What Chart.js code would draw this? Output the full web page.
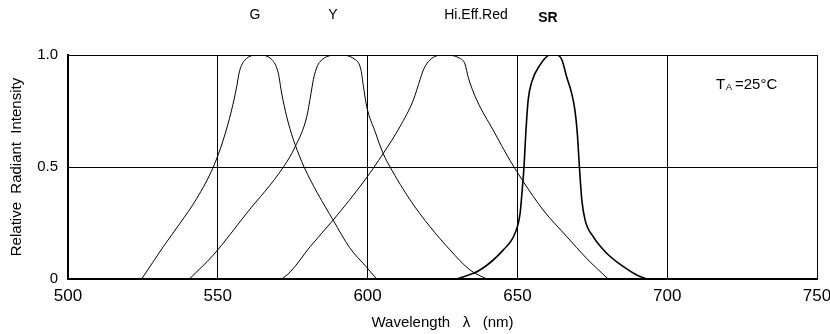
<!DOCTYPE html>
<html>
<head>
<meta charset="utf-8">
<script src="https://cdn.jsdelivr.net/npm/chart.js@4/dist/chart.umd.min.js"></script>
<style>
  html, body { margin:0; padding:0; background:#fff; }
  canvas { display:block; }
</style>
</head>
<body>
<canvas id="c" width="830" height="334"></canvas>
<script>
// spectral curves (wavelength nm -> relative intensity)
const wlG  = [524.6, 531.8, 537.4, 543.0, 548.5, 551.8, 554.6, 556.3, 557.2, 559.1, 563.5, 568.0, 570.2, 571.3, 573.0, 574.1, 575.8, 578.8, 583.4, 588.5, 594.0, 599.5, 603.0];
const relG = [0, 0.144, 0.249, 0.36, 0.5, 0.62, 0.754, 0.858, 0.925, 0.978, 1.0, 0.98, 0.918, 0.83, 0.725, 0.67, 0.6, 0.5, 0.38, 0.263, 0.14, 0.055, 0];

const wlY  = [540.5, 548.5, 559.6, 571.9, 575.8, 579.7, 581.3, 582.1, 584.1, 590.2, 595.8, 597.8, 598.6, 599.7, 602.5, 605.2, 607.5, 614.2, 620.8, 627.5, 634.2, 639.8];
const relY = [0, 0.107, 0.293, 0.5, 0.59, 0.725, 0.844, 0.903, 0.97, 1.0, 0.98, 0.933, 0.86, 0.77, 0.658, 0.56, 0.5, 0.353, 0.234, 0.13, 0.04, 0];

const wlR  = [571.3, 574.1, 580.8, 588.5, 599.1, 605.2, 610.8, 615.3, 617.5, 618.6, 620.8, 625.3, 630.8, 632.5, 633.6, 636.4, 641.9, 647.5, 652.0, 658.6, 666.5, 673.1, 680.3];
const relR = [0, 0.03, 0.144, 0.263, 0.442, 0.56, 0.68, 0.8, 0.89, 0.933, 0.978, 1.0, 0.985, 0.96, 0.9, 0.8, 0.665, 0.53, 0.434, 0.308, 0.189, 0.092, 0];

const wlSR  = [629.7, 637.5, 645.3, 649.2, 650.9, 651.6, 652.2, 652.8, 653.6, 654.8, 657.5, 660.9, 663.1, 664.8, 666.5, 668.1, 669.2, 670.0, 670.7, 671.5, 672.6, 675.3, 679.8, 685.4, 689.8, 693.2];
const relSR = [0, 0.04, 0.13, 0.204, 0.293, 0.397, 0.5, 0.65, 0.8, 0.88, 0.955, 1.0, 1.0, 0.98, 0.9, 0.83, 0.754, 0.65, 0.5, 0.353, 0.263, 0.189, 0.115, 0.055, 0.018, 0];

const xTicks = [500, 550, 600, 650, 700, 750];
const yTicks = [0, 0.5, 1.0];
const yTickText = ["0", "0.5", "1.0"];
const curveNames = ["G", "Y", "Hi.Eff.Red", "SR"];

function pts(xs, ys){ return xs.map((x,i)=>({x, y:ys[i]})); }

function line(label, xs, ys, width){
  return {
    label, data: pts(xs, ys),
    borderColor:"#000", borderWidth:width,
    pointRadius:0, fill:false,
    cubicInterpolationMode:"monotone"
  };
}

const FONT = "'Liberation Sans', Arial, sans-serif";

// curve names on top and the temperature note
const notes = {
  id:"notes",
  afterDraw(chart){
    const ctx = chart.ctx;
    ctx.save();
    ctx.fillStyle = "#000";
    ctx.textAlign = "center";
    ctx.textBaseline = "middle";
    ctx.font = "14px " + FONT;
    ctx.fillText(curveNames[0], 255, 15);
    ctx.fillText(curveNames[1], 333, 15);
    ctx.fillText(curveNames[2], 476, 15);
    ctx.font = "bold 14px " + FONT;
    ctx.fillText(curveNames[3], 548, 18);
    ctx.textAlign = "left";
    ctx.font = "15px " + FONT;
    ctx.fillText("T", 716, 85);
    ctx.font = "9px " + FONT;
    ctx.fillText("A", 726, 88);
    ctx.font = "15px " + FONT;
    ctx.fillText("=25°C", 735, 85);
    ctx.restore();
  }
};

new Chart(document.getElementById("c"), {
  type:"line",
  data:{
    datasets:[
      line(curveNames[0], wlG, relG, 1),
      line(curveNames[1], wlY, relY, 1),
      line(curveNames[2], wlR, relR, 1),
      line(curveNames[3], wlSR, relSR, 1.6)
    ]
  },
  options:{
    responsive:false,
    animation:false,
    layout:{ padding:{ top:55, right:13, left:0, bottom:0 } },
    plugins:{ legend:{ display:false }, tooltip:{ enabled:false } },
    scales:{
      x:{
        type:"linear", min:500, max:750,
        afterBuildTicks: s => { s.ticks = xTicks.map(v=>({value:v})); },
        afterFit: s => { s.height = 55; s.paddingLeft = 0; s.paddingRight = 0; },
        grid:{ color:"#000", lineWidth:1, drawTicks:false },
        border:{ color:"#000", width:2 },
        ticks:{ color:"#000", font:{ family:FONT, size:17 }, padding:7, maxRotation:0 },
        title:{ display:true, text:"Wavelength   λ   (nm)", color:"#000", font:{ family:FONT, size:15 }, padding:{ top:0, bottom:2 } }
      },
      y:{
        type:"linear", min:0, max:1,
        afterBuildTicks: s => { s.ticks = yTicks.map(v=>({value:v})); },
        afterFit: s => { s.width = 68; s.paddingTop = 0; s.paddingBottom = 0; },
        grid:{ color:"#000", lineWidth:1, drawTicks:false },
        border:{ color:"#000", width:2 },
        ticks:{ color:"#000", font:{ family:FONT, size:15 }, padding:10,
          callback: (v) => yTickText[yTicks.indexOf(v)] ?? "" },
        title:{ display:true, text:"Relative  Radiant  Intensity", color:"#000", font:{ family:FONT, size:15 }, padding:{ top:8, bottom:0 } }
      }
    }
  },
  plugins:[notes]
});
</script>
</body>
</html>
